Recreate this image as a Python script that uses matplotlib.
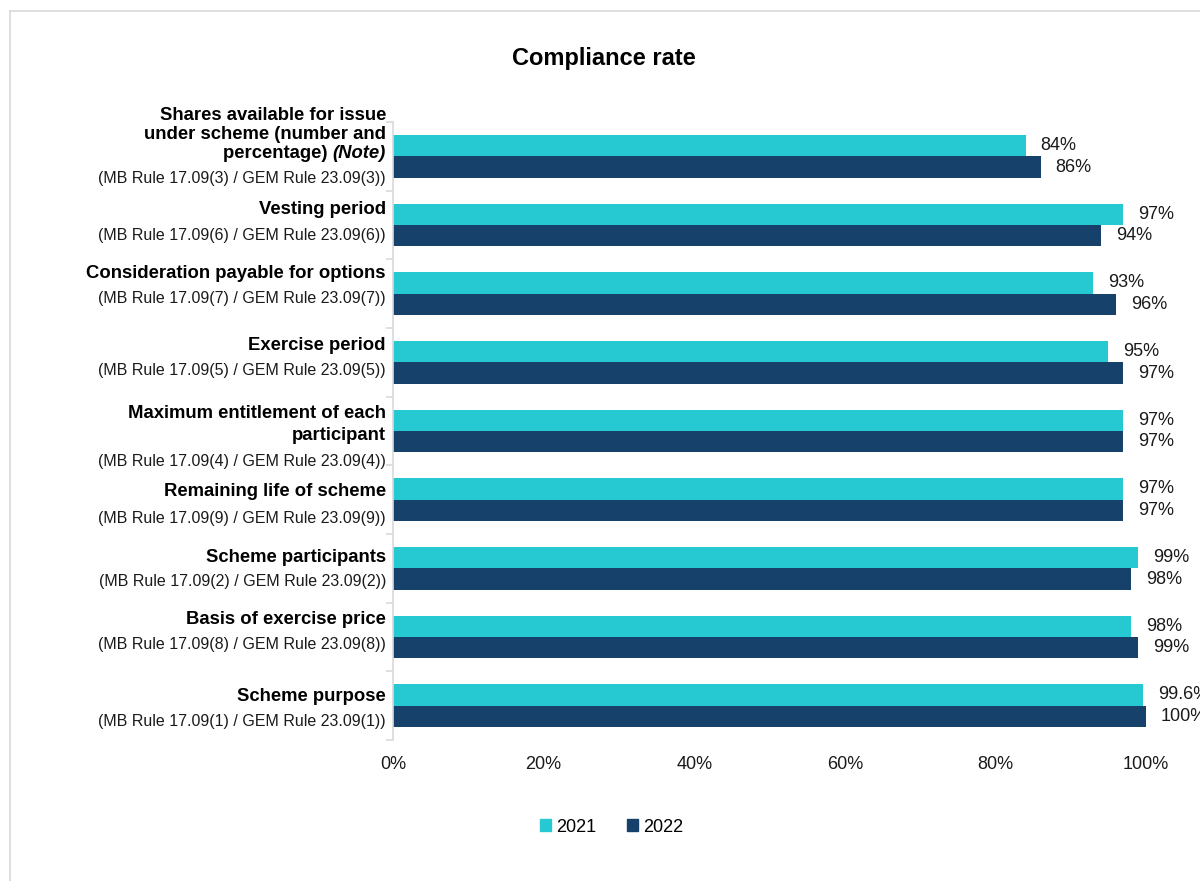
import matplotlib
matplotlib.use("Agg")
import matplotlib.pyplot as plt
from matplotlib.lines import Line2D
from matplotlib.patches import Patch

plt.rcParams["font.family"] = ["Liberation Sans", "DejaVu Sans"]

# ---- data -------------------------------------------------------------
title = "Compliance rate"
years = ["2021", "2022"]
headings = [
    ["Shares available for issue", "under scheme (number and", "percentage)"],
    ["Vesting period"],
    ["Consideration payable for options"],
    ["Exercise period"],
    ["Maximum entitlement of each", "participant"],
    ["Remaining life of scheme"],
    ["Scheme participants"],
    ["Basis of exercise price"],
    ["Scheme purpose"],
]
note_tag = "(Note)"
rules = [
    "(MB Rule 17.09(3) / GEM Rule 23.09(3))",
    "(MB Rule 17.09(6) / GEM Rule 23.09(6))",
    "(MB Rule 17.09(7) / GEM Rule 23.09(7))",
    "(MB Rule 17.09(5) / GEM Rule 23.09(5))",
    "(MB Rule 17.09(4) / GEM Rule 23.09(4))",
    "(MB Rule 17.09(9) / GEM Rule 23.09(9))",
    "(MB Rule 17.09(2) / GEM Rule 23.09(2))",
    "(MB Rule 17.09(8) / GEM Rule 23.09(8))",
    "(MB Rule 17.09(1) / GEM Rule 23.09(1))",
]
rate_2021 = [84, 97, 93, 95, 97, 97, 99, 98, 99.6]
rate_2022 = [86, 94, 96, 97, 97, 97, 98, 99, 100]
x_ticks = [0, 20, 40, 60, 80, 100]
x_tick_labels = ["0%", "20%", "40%", "60%", "80%", "100%"]

# ---- style ------------------------------------------------------------
c2021 = "#26C9D2"
c2022 = "#15416A"
grey = "#D9D9D9"

# vertical placement of the label blocks (pixels below each row centre)
rule_drop = [22.0, 10.4, 4.4, 7.7, 30.3, 18.5, 12.9, 7.5, 15.5]
head_gap = [25, 26, 25, 25, 25.7, 26.5, 24, 24.6, 24.7]
line_step = [18.7, 19, 19, 19, 21.6, 19, 19, 19, 19]

W, H = 1200, 881
fig = plt.figure(figsize=(W / 100, H / 100), dpi=100)
ax = fig.add_axes([393 / W, 1 - 740 / H, 753 / W, 618 / H])

n = len(rules)
pos = list(range(n))
bar_h = 0.313
ax.barh([p - bar_h / 2 for p in pos], rate_2021, height=bar_h, color=c2021, label=years[0])
ax.barh([p + bar_h / 2 for p in pos], rate_2022, height=bar_h, color=c2022, label=years[1])

ax.set_xlim(0, 100)
ax.set_ylim(n - 0.5, -0.5)

# value labels
for vals, sign in ((rate_2021, -1), (rate_2022, 1)):
    for p, v in zip(pos, vals):
        ax.annotate(f"{v:g}%", xy=(v, p + sign * bar_h / 2), xytext=(15, 0),
                    textcoords="offset pixels", ha="left", va="center",
                    fontsize=13, color="#1a1a1a", annotation_clip=False)

# category labels: bold heading lines above a regular rule reference
for i in range(n):
    base = -rule_drop[i]
    ax.annotate(rules[i], xy=(0, i), xytext=(-7, base), textcoords="offset pixels",
                ha="right", va="center", fontsize=11.5, color="#1a1a1a",
                annotation_clip=False)
    lines = headings[i]
    for k, line in enumerate(reversed(lines)):
        y_off = base + head_gap[i] + k * line_step[i]
        if i == 0 and k == 0:
            note = ax.annotate(note_tag, xy=(0, i), xytext=(-7, y_off),
                               textcoords="offset pixels", ha="right", va="center",
                               fontsize=13.3, weight="bold", style="italic",
                               color="#000000", annotation_clip=False)
            ax.annotate(line + " ", xy=(0, 0.5), xycoords=note, ha="right", va="center",
                        fontsize=13.3, weight="bold", color="#000000",
                        annotation_clip=False)
        else:
            ax.annotate(line, xy=(0, i), xytext=(-7, y_off), textcoords="offset pixels",
                        ha="right", va="center", fontsize=13.3, weight="bold",
                        color="#000000", annotation_clip=False)

# axes styling
for s in ("top", "right", "bottom"):
    ax.spines[s].set_visible(False)
ax.spines["left"].set_color(grey)
ax.spines["left"].set_linewidth(1.2)
ax.set_yticks([])
ax.set_yticks([p - 0.5 for p in pos] + [n - 0.5], minor=True)
ax.tick_params(axis="y", which="minor", length=5, width=1.2, color=grey, direction="out")
ax.set_xticks(x_ticks)
ax.set_xticklabels(x_tick_labels)
ax.tick_params(axis="x", length=0, pad=11.5, labelsize=13, labelcolor="#1a1a1a")

fig.text(604 / W, 1 - 58 / H, title, ha="center", va="center", fontsize=17, weight="bold")

handles = [Patch(color=c2021), Patch(color=c2022)]
fig.legend(handles, years, loc="center", bbox_to_anchor=(612 / W, 1 - 827 / H),
           ncol=2, frameon=False, fontsize=13, handlelength=0.6, handleheight=0.6,
           handletextpad=0.3, columnspacing=1.7)

# outer frame edges
fig.add_artist(Line2D([10 / W, 10 / W], [0, 1 - 11 / H], transform=fig.transFigure,
                      color=grey, lw=1.2))
fig.add_artist(Line2D([10 / W, 1], [1 - 11 / H, 1 - 11 / H], transform=fig.transFigure,
                      color=grey, lw=1.2))

fig.savefig("out.png", dpi=100)
